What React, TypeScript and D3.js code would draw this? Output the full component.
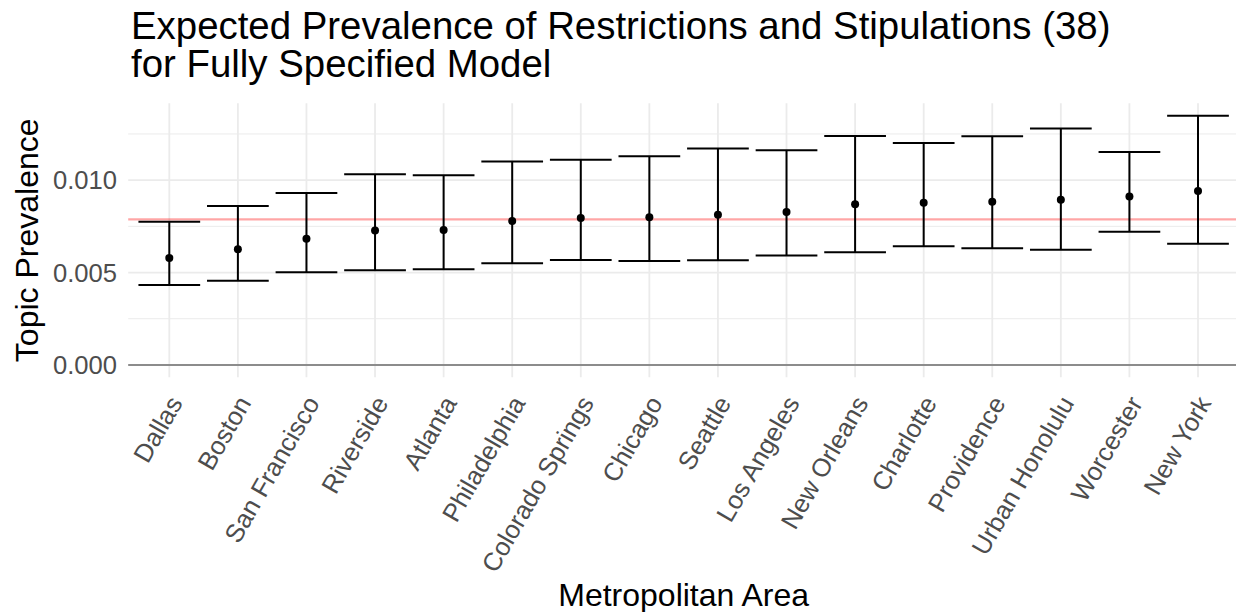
import React from "react";
import * as d3 from "d3";

const cities = [
  "Dallas", "Boston", "San Francisco", "Riverside", "Atlanta", "Philadelphia",
  "Colorado Springs", "Chicago", "Seattle", "Los Angeles", "New Orleans",
  "Charlotte", "Providence", "Urban Honolulu", "Worcester", "New York",
];
const estimates = [
  0.00579, 0.00626, 0.00683, 0.00728, 0.0073, 0.00779, 0.00795, 0.00799,
  0.00813, 0.00827, 0.00869, 0.00878, 0.00883, 0.00894, 0.00912, 0.00942,
];
const lowerCI = [
  0.00433, 0.00455, 0.00502, 0.00513, 0.00518, 0.0055, 0.00568, 0.00563,
  0.00567, 0.00592, 0.0061, 0.00642, 0.00631, 0.00624, 0.00721, 0.00656,
];
const upperCI = [
  0.00775, 0.0086, 0.0093, 0.01032, 0.01027, 0.01101, 0.0111, 0.0113,
  0.01171, 0.01162, 0.01239, 0.01201, 0.01237, 0.01279, 0.01153, 0.01349,
];
const meanLine = 0.00788;
const yTicks = [0, 0.005, 0.01];
const yMinorTicks = [0.0025, 0.0075, 0.0125];
const titleLines = [
  "Expected Prevalence of Restrictions and Stipulations (38)",
  "for Fully Specified Model",
];
const xTitle = "Metropolitan Area";
const yTitle = "Topic Prevalence";

const W = 1236;
const H = 612;
const panel = { left: 128.2, right: 1239.1, top: 103.3, bottom: 377.3 };
const FONT = "'Liberation Sans', Arial, Helvetica, sans-serif";

export default function App() {
  const x = d3
    .scalePoint<string>()
    .domain(cities)
    .range([169.3, 1198]);
  const step = x.step();
  const y = d3
    .scaleLinear()
    .domain([-0.00067, 0.01416])
    .range([panel.bottom, panel.top]);
  const capHalf = step * 0.45;

  return (
    <div style={{ position: "absolute", left: 0, top: 0 }}>
      <svg width={W} height={H} style={{ display: "block", background: "#fff" }} fontFamily={FONT}>
        {/* grid */}
        {yMinorTicks.map((t) => (
          <line key={"mn" + t} x1={panel.left} x2={panel.right} y1={y(t)} y2={y(t)} stroke="#EBEBEB" strokeWidth={1} />
        ))}
        {yTicks.map((t) => (
          <line key={"mj" + t} x1={panel.left} x2={panel.right} y1={y(t)} y2={y(t)} stroke="#EBEBEB" strokeWidth={1.8} />
        ))}
        {cities.map((c) => (
          <line key={"vg" + c} x1={x(c)} x2={x(c)} y1={panel.top} y2={panel.bottom} stroke="#EBEBEB" strokeWidth={1.8} />
        ))}
        {/* zero line */}
        <line x1={panel.left} x2={panel.right} y1={y(0)} y2={y(0)} stroke="#8C8C8C" strokeWidth={2} />
        {/* mean line */}
        <line x1={panel.left} x2={panel.right} y1={y(meanLine)} y2={y(meanLine)} stroke="#FF0000" strokeOpacity={0.35} strokeWidth={2.2} />
        {/* error bars */}
        {cities.map((c, i) => {
          const cx = x(c) as number;
          return (
            <g key={"eb" + c} stroke="#000" strokeWidth={2}>
              <line x1={cx} x2={cx} y1={y(lowerCI[i])} y2={y(upperCI[i])} />
              <line x1={cx - capHalf} x2={cx + capHalf} y1={y(lowerCI[i])} y2={y(lowerCI[i])} />
              <line x1={cx - capHalf} x2={cx + capHalf} y1={y(upperCI[i])} y2={y(upperCI[i])} />
            </g>
          );
        })}
        {cities.map((c, i) => (
          <circle key={"pt" + c} cx={x(c)} cy={y(estimates[i])} r={4} fill="#000" />
        ))}
        {/* y tick labels */}
        {yTicks.map((t) => (
          <text key={"yt" + t} x={117} y={y(t) + 9} textAnchor="end" fontSize={25.6} fill="#4D4D4D">
            {d3.format(".3f")(t)}
          </text>
        ))}
        {/* x tick labels */}
        {cities.map((c) => (
          <text
            key={"xt" + c}
            transform={`translate(${(x(c) as number) + 14},${403}) rotate(-60)`}
            textAnchor="end"
            fontSize={25.6}
            fill="#4D4D4D"
          >
            {c}
          </text>
        ))}
        {/* axis titles */}
        <text x={(panel.left + panel.right) / 2} y={605.5} textAnchor="middle" fontSize={32} fill="#000">
          {xTitle}
        </text>
        <text
          transform={`translate(38,${(panel.top + panel.bottom) / 2}) rotate(-90)`}
          textAnchor="middle"
          fontSize={32}
          fill="#000"
        >
          {yTitle}
        </text>
        {/* title */}
        {titleLines.map((l, i) => (
          <text key={"ti" + i} x={131} y={39 + i * 38} fontSize={38.4} fill="#000">
            {l}
          </text>
        ))}
      </svg>
    </div>
  );
}
